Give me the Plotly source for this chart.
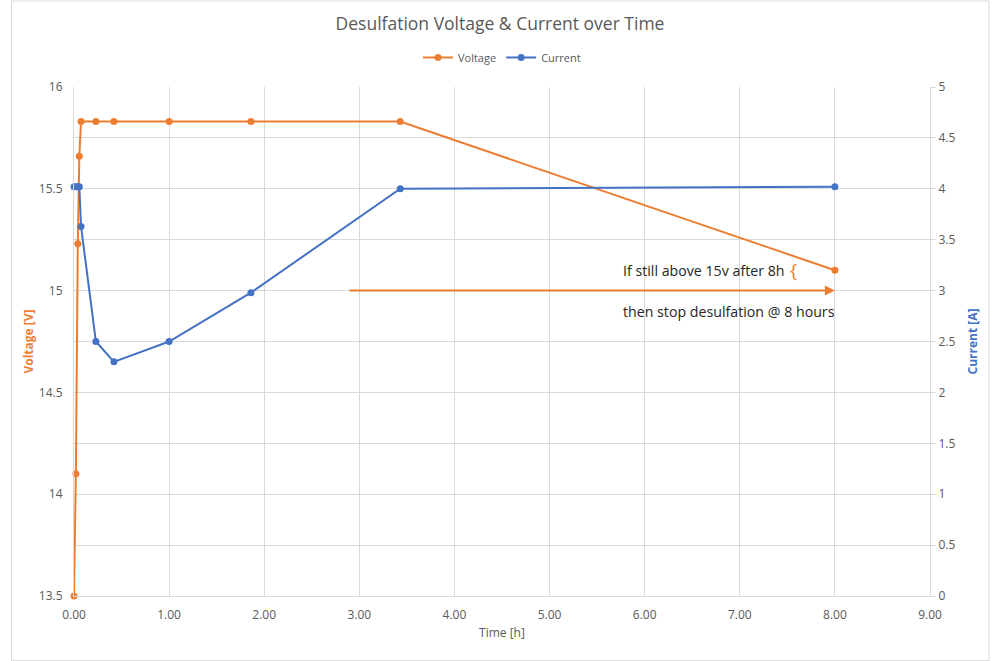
import plotly.graph_objects as go

time_h = [0.0, 0.02, 0.04, 0.056, 0.074, 0.23, 0.42, 1.0, 1.86, 3.43, 8.0]
voltage = [13.5, 14.1, 15.23, 15.66, 15.83, 15.83, 15.83, 15.83, 15.83, 15.83, 15.1]
current = [4.02, 4.02, 4.02, 4.02, 3.63, 2.5, 2.3, 2.5, 2.98, 4.0, 4.02]

ORANGE = "#ED7D31"
BLUE = "#4472C4"
GREY = "#595959"
GRID = "#D9D9D9"
FONT = "Open Sans"

fig = go.Figure()
fig.add_trace(go.Scatter(x=time_h, y=voltage, name="Voltage", mode="lines+markers",
                         line=dict(color=ORANGE, width=2), marker=dict(size=7, color=ORANGE),
                         yaxis="y", cliponaxis=False))
fig.add_trace(go.Scatter(x=time_h, y=current, name="Current", mode="lines+markers",
                         line=dict(color=BLUE, width=2), marker=dict(size=7, color=BLUE),
                         yaxis="y2", cliponaxis=False))

fig.update_layout(
    width=1000, height=661,
    margin=dict(l=74, r=70, t=87, b=65),
    paper_bgcolor="white", plot_bgcolor="white",
    font=dict(family=FONT, size=12, color=GREY),
    title=dict(text="Desulfation Voltage & Current over Time", x=0.5, xanchor="center",
               y=0.964, yanchor="middle", font=dict(size=17.5, color=GREY, family=FONT)),
    legend=dict(orientation="h", x=0.5, xanchor="center", y=1.058, yanchor="middle",
                font=dict(size=11, color=GREY), bgcolor="rgba(0,0,0,0)"),
    showlegend=True,
    xaxis=dict(range=[0, 9], tickvals=list(range(10)), tickformat=".2f",
               showgrid=True, gridcolor=GRID, gridwidth=1, zeroline=False,
               showline=True, linecolor=GRID, linewidth=1, mirror=False,
               title=dict(text="Time [h]", font=dict(size=12, color=GREY), standoff=6),
               ticks="outside", ticklen=8, tickcolor="rgba(0,0,0,0)",
               tickfont=dict(size=12, color=GREY)),
    yaxis=dict(range=[13.5, 16], tickvals=[13.5, 14, 14.5, 15, 15.5, 16],
               ticktext=["13.5", "14", "14.5", "15", "15.5", "16"],
               showgrid=True, gridcolor=GRID, zeroline=False,
               showline=True, linecolor=GRID, linewidth=1,
               ticks="outside", ticklen=8, tickcolor="rgba(0,0,0,0)",
               title=dict(text="<b>Voltage [V]</b>", font=dict(size=12, color=ORANGE), standoff=2),
               tickfont=dict(size=12, color=GREY)),
    yaxis2=dict(range=[0, 5], tickvals=[0, 0.5, 1, 1.5, 2, 2.5, 3, 3.5, 4, 4.5, 5],
                ticktext=["0", "0.5", "1", "1.5", "2", "2.5", "3", "3.5", "4", "4.5", "5"],
                overlaying="y", side="right", showgrid=True, gridcolor=GRID, zeroline=False,
                showline=True, linecolor=GRID, linewidth=1, ticks="outside", ticklen=5,
                tickcolor=GRID,
                title=dict(text="<b>Current [A]</b>", font=dict(size=12, color=BLUE), standoff=14),
                tickfont=dict(size=12, color=GREY)),
)

fig.add_annotation(x=8.0, y=15.0, ax=2.88, ay=15.0, xref="x", yref="y", axref="x", ayref="y",
                   text="", showarrow=True, arrowhead=2, arrowsize=1, arrowwidth=2,
                   arrowcolor=ORANGE)
fig.add_annotation(x=5.75, y=15.1, xref="x", yref="y", xanchor="left", yanchor="middle",
                   text="If still above 15v after 8h", showarrow=False,
                   font=dict(size=14.2, color="#262626", family=FONT))
fig.add_annotation(x=7.57, y=15.1, xref="x", yref="y", xanchor="center", yanchor="middle",
                   text="{", showarrow=False,
                   font=dict(size=19, color=ORANGE, family=FONT))
fig.add_annotation(x=5.75, y=14.895, xref="x", yref="y", xanchor="left", yanchor="middle",
                   text="then stop desulfation @ 8 hours", showarrow=False,
                   font=dict(size=14.2, color="#262626", family=FONT))

fig.add_shape(type="rect", xref="paper", yref="paper", x0=-0.073, x1=1.069, y0=-0.127, y1=1.169,
              line=dict(color="#D9D9D9", width=1), fillcolor="rgba(0,0,0,0)", layer="below")

fig.write_html("out.html")
